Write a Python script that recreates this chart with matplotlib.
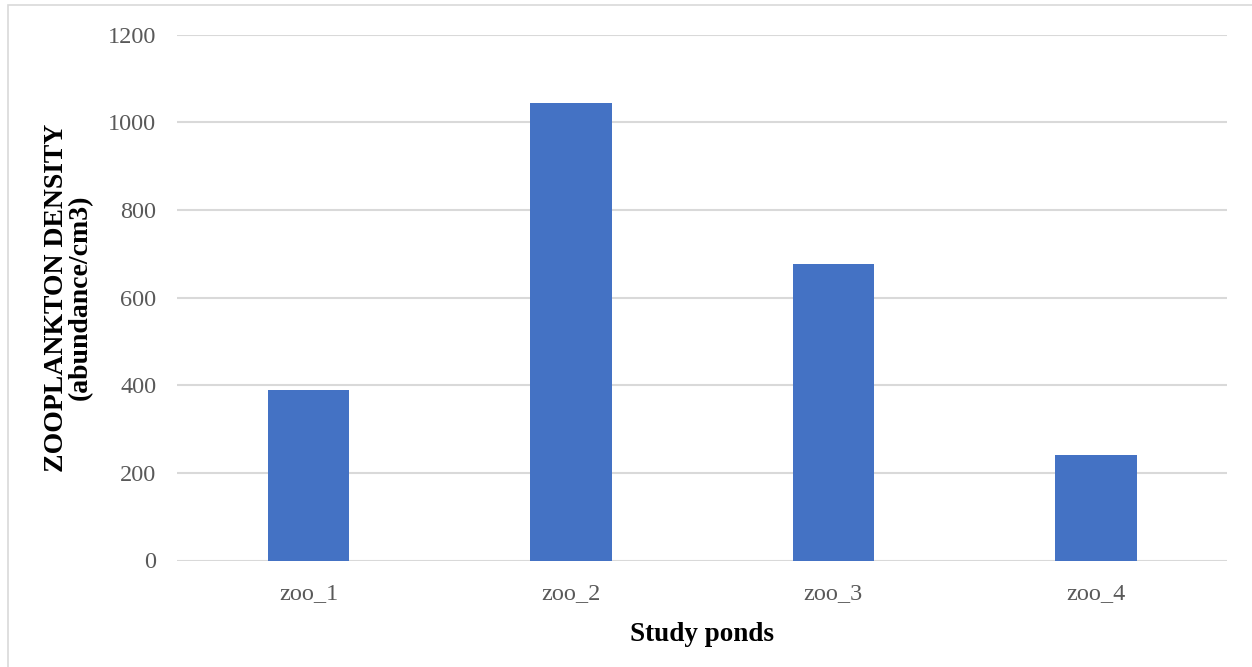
import matplotlib
matplotlib.use("Agg")
import matplotlib.pyplot as plt
from matplotlib.patches import Rectangle

categories = ["zoo_1", "zoo_2", "zoo_3", "zoo_4"]
density = [388, 1045, 676, 240]
yticks = [0, 200, 400, 600, 800, 1000, 1200]

W, H = 1252, 667
fig = plt.figure(figsize=(W / 100, H / 100), dpi=100)
plt.rcParams['font.family'] = ['Liberation Serif', 'DejaVu Serif']

# outer chart frame
fig.patches.append(Rectangle((8 / W, -0.2), 1.2, 1.2 - 5 / H, transform=fig.transFigure,
                             fill=False, edgecolor='#d9d9d9', linewidth=1.2))

left, right = 177.3 / W, 1227 / W
bottom, top = 1 - 560.5 / H, 1 - 34.7 / H
ax = fig.add_axes([left, bottom, right - left, top - bottom])

x = range(len(categories))
ax.bar(x, density, width=0.311, color='#4472c4', zorder=3)
ax.set_xlim(-0.5, len(categories) - 0.5)
ax.set_ylim(0, 1200)
ax.set_yticks(yticks)
ax.set_xticks(list(x))
ax.set_xticklabels(categories)
ax.grid(axis='y', color='#d9d9d9', linewidth=1.5, zorder=0)
ax.set_axisbelow(True)
for s in ax.spines.values():
    s.set_visible(False)
ax.tick_params(axis='both', length=0, labelsize=17.5, labelcolor='#595959')
ax.tick_params(axis='y', pad=15)
ax.tick_params(axis='x', pad=16)

ax.set_xlabel("Study ponds", fontsize=19.5, fontweight='bold', color='black', labelpad=13)
ax.set_ylabel("ZOOPLANKTON DENSITY\n(abundance/cm3)", fontsize=20, fontweight='bold',
              color='black', linespacing=0.95, labelpad=11)

fig.savefig("out.png", dpi=100)
